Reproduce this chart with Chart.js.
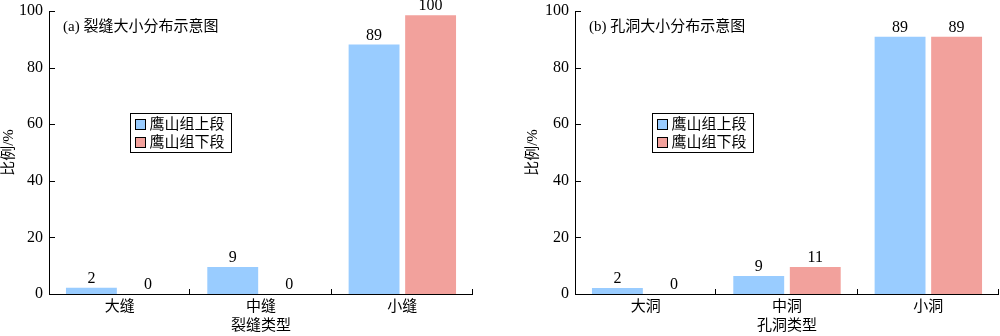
<!DOCTYPE html>
<html>
<head>
<meta charset="utf-8">
<script src="https://cdn.jsdelivr.net/npm/chart.js@4/dist/chart.umd.min.js"></script>
<style>
  body { margin: 0; background: #fff; }
  .wrap { display: flex; width: 1000px; height: 336px; }
  canvas { display: block; }
</style>
</head>
<body>
<div class="wrap">
  <canvas id="crackChart" width="500" height="336"></canvas>
  <canvas id="poreChart" width="500" height="336"></canvas>
</div>
<script>
// series names
var seriesNames = ['鹰山组上段', '鹰山组下段'];

// (a) cracks
var crackCats = ['大缝', '中缝', '小缝'];
var crackUpper = [2.2, 9.5, 88.2];
var crackLower = [0, 0, 98.5];
var crackUpperText = ['2', '9', '89'];
var crackLowerText = ['0', '0', '100'];

// (b) vugs
var poreCats = ['大洞', '中洞', '小洞'];
var poreUpper = [2.1, 6.4, 90.9];
var poreLower = [0, 9.5, 90.9];
var poreUpperText = ['2', '9', '89'];
var poreLowerText = ['0', '11', '89'];

var yTicks = [0, 20, 40, 60, 80, 100];

var FONT = "'Liberation Serif', 'Noto Sans CJK SC', serif";
var BLUE = '#99CCFF';
var RED = '#F2A19C';

// axes lines with inward ticks, drawn by hand
var axesPlugin = {
    id: 'axesPlugin',
    afterDraw: function(chart) {
        var ctx = chart.ctx, a = chart.chartArea;
        var x = chart.scales.x, y = chart.scales.y;
        ctx.save();
        ctx.strokeStyle = '#000';
        ctx.lineWidth = 1;
        ctx.beginPath();
        ctx.moveTo(a.left + 0.5, a.top);
        ctx.lineTo(a.left + 0.5, a.bottom + 0.5);
        ctx.lineTo(a.right, a.bottom + 0.5);
        yTicks.forEach(function(v) {
            var py = Math.round(y.getPixelForValue(v)) + 0.5;
            ctx.moveTo(a.left, py);
            ctx.lineTo(a.left + 6, py);
        });
        for (var i = 1; i <= chart.data.labels.length; i++) {
            var px;
            if (i < chart.data.labels.length) {
                px = (x.getPixelForValue(i - 1) + x.getPixelForValue(i)) / 2;
            } else {
                px = a.right;
            }
            px = Math.round(px) - 0.5;
            ctx.moveTo(px, a.bottom);
            ctx.lineTo(px, a.bottom - 5);
        }
        ctx.stroke();
        ctx.restore();
    }
};

// value text above each bar
var valuePlugin = {
    id: 'valuePlugin',
    afterDatasetsDraw: function(chart) {
        var ctx = chart.ctx;
        ctx.save();
        ctx.fillStyle = '#000';
        ctx.font = '16px ' + FONT;
        ctx.textAlign = 'center';
        ctx.textBaseline = 'bottom';
        chart.data.datasets.forEach(function(ds, di) {
            chart.getDatasetMeta(di).data.forEach(function(bar, i) {
                ctx.fillText(ds.valueText[i], bar.x, bar.y - 1);
            });
        });
        ctx.restore();
    }
};

// panel title and boxed legend inside the plot
var panelPlugin = {
    id: 'panelPlugin',
    afterDraw: function(chart, args, opts) {
        var ctx = chart.ctx, a = chart.chartArea;
        ctx.save();
        ctx.fillStyle = '#000';
        ctx.font = '15px ' + FONT;
        ctx.textAlign = 'left';
        ctx.textBaseline = 'middle';
        ctx.fillText(opts.title, a.left + 14, 27);

        var lx = a.left + opts.legendX + 0.5, ly = 113.5;
        ctx.strokeStyle = '#000';
        ctx.lineWidth = 1;
        ctx.strokeRect(lx, ly, 101, 39);
        chart.data.datasets.forEach(function(ds, i) {
            var cy = ly + 11 + i * 18;
            ctx.fillStyle = ds.backgroundColor;
            ctx.fillRect(lx + 5, cy - 5, 10, 10);
            ctx.strokeRect(lx + 5, cy - 5, 10, 10);
            ctx.fillStyle = '#000';
            ctx.fillText(ds.label, lx + 19, cy + 1);
        });
        ctx.restore();
    }
};

function makeChart(id, cats, upper, lower, upperText, lowerText, title, xTitle, padLeft, padRight, yWidth, legendX) {
    return new Chart(document.getElementById(id), {
        type: 'bar',
        data: {
            labels: cats,
            datasets: [{
                label: seriesNames[0],
                data: upper,
                valueText: upperText,
                backgroundColor: BLUE
            }, {
                label: seriesNames[1],
                data: lower,
                valueText: lowerText,
                backgroundColor: RED
            }]
        },
        options: {
            responsive: false,
            animation: false,
            categoryPercentage: 0.8,
            barPercentage: 0.9,
            layout: { padding: { left: padLeft, right: padRight, top: 11, bottom: 0 } },
            plugins: {
                legend: { display: false },
                tooltip: { enabled: false },
                panelPlugin: { title: title, legendX: legendX }
            },
            scales: {
                x: {
                    grid: { display: false, drawTicks: false },
                    border: { display: false },
                    ticks: { color: '#000', font: { family: FONT, size: 15 }, padding: 4 },
                    title: {
                        display: true, text: xTitle, color: '#000',
                        font: { family: FONT, size: 15 }, padding: { top: 0, bottom: 1 }
                    },
                    afterFit: function(s) { s.height = 42; }
                },
                y: {
                    min: 0, max: 100,
                    grid: { display: false, drawTicks: false },
                    border: { display: false },
                    ticks: { stepSize: 20, color: '#000', font: { family: FONT, size: 16 }, padding: 6 },
                    title: {
                        display: true, text: '比例/%', color: '#000',
                        font: { family: FONT, size: 15 }, padding: 0
                    },
                    afterFit: function(s) {
                        s.width = yWidth;
                        s.paddingTop = 0;
                        s.paddingBottom = 0;
                    }
                }
            }
        },
        plugins: [axesPlugin, valuePlugin, panelPlugin]
    });
}

makeChart('crackChart', crackCats, crackUpper, crackLower, crackUpperText, crackLowerText,
    '(a) 裂缝大小分布示意图', '裂缝类型', 0, 27, 49, 81);
makeChart('poreChart', poreCats, poreUpper, poreLower, poreUpperText, poreLowerText,
    '(b) 孔洞大小分布示意图', '孔洞类型', 24, 1, 51, 77);
</script>
</body>
</html>
